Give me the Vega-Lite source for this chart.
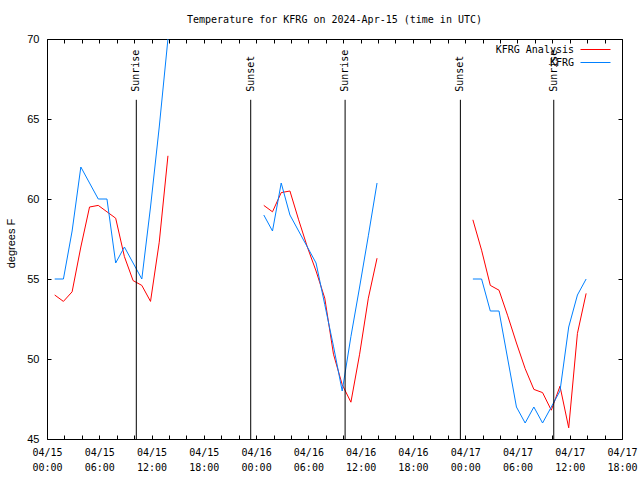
{
  "$schema": "https://vega.github.io/schema/vega-lite/v6.json",
  "width": 575,
  "height": 400,
  "autosize": "none",
  "padding": {"left": 47, "top": 39, "right": 18, "bottom": 41},
  "background": "white",
  "title": {
    "text": "Temperature for KFRG on 2024-Apr-15 (time in UTC)",
    "font": "DejaVu Sans Mono",
    "fontSize": 10,
    "fontWeight": "normal",
    "color": "black",
    "anchor": "middle",
    "offset": 8
  },
  "datasets": {
    "obs": [
      {"day": "04/15", "t": "2024-04-15T00:53:00Z", "KFRG Analysis": 54.0, "KFRG": 55},
      {"day": "04/15", "t": "2024-04-15T01:53:00Z", "KFRG Analysis": 53.6, "KFRG": 55},
      {"day": "04/15", "t": "2024-04-15T02:53:00Z", "KFRG Analysis": 54.2, "KFRG": 58},
      {"day": "04/15", "t": "2024-04-15T03:53:00Z", "KFRG Analysis": 57.0, "KFRG": 62},
      {"day": "04/15", "t": "2024-04-15T04:53:00Z", "KFRG Analysis": 59.5, "KFRG": 61},
      {"day": "04/15", "t": "2024-04-15T05:53:00Z", "KFRG Analysis": 59.6, "KFRG": 60},
      {"day": "04/15", "t": "2024-04-15T06:53:00Z", "KFRG Analysis": 59.2, "KFRG": 60},
      {"day": "04/15", "t": "2024-04-15T07:53:00Z", "KFRG Analysis": 58.8, "KFRG": 56},
      {"day": "04/15", "t": "2024-04-15T08:53:00Z", "KFRG Analysis": 56.4, "KFRG": 57},
      {"day": "04/15", "t": "2024-04-15T09:53:00Z", "KFRG Analysis": 54.9, "KFRG": 56},
      {"day": "04/15", "t": "2024-04-15T10:53:00Z", "KFRG Analysis": 54.6, "KFRG": 55},
      {"day": "04/15", "t": "2024-04-15T11:53:00Z", "KFRG Analysis": 53.6, "KFRG": 59.5},
      {"day": "04/15", "t": "2024-04-15T12:53:00Z", "KFRG Analysis": 57.3, "KFRG": 64.5},
      {"day": "04/15", "t": "2024-04-15T13:53:00Z", "KFRG Analysis": 62.7, "KFRG": 70},
      {"day": "04/16", "t": "2024-04-16T00:53:00Z", "KFRG Analysis": 59.6, "KFRG": 59},
      {"day": "04/16", "t": "2024-04-16T01:53:00Z", "KFRG Analysis": 59.2, "KFRG": 58},
      {"day": "04/16", "t": "2024-04-16T02:53:00Z", "KFRG Analysis": 60.4, "KFRG": 61},
      {"day": "04/16", "t": "2024-04-16T03:53:00Z", "KFRG Analysis": 60.5, "KFRG": 59},
      {"day": "04/16", "t": "2024-04-16T04:53:00Z", "KFRG Analysis": 58.7, "KFRG": 58},
      {"day": "04/16", "t": "2024-04-16T05:53:00Z", "KFRG Analysis": 57.0, "KFRG": 57},
      {"day": "04/16", "t": "2024-04-16T06:53:00Z", "KFRG Analysis": 55.5, "KFRG": 56},
      {"day": "04/16", "t": "2024-04-16T07:53:00Z", "KFRG Analysis": 53.8, "KFRG": 53.4},
      {"day": "04/16", "t": "2024-04-16T08:53:00Z", "KFRG Analysis": 50.3, "KFRG": 50.8},
      {"day": "04/16", "t": "2024-04-16T09:53:00Z", "KFRG Analysis": 48.4, "KFRG": 48},
      {"day": "04/16", "t": "2024-04-16T10:53:00Z", "KFRG Analysis": 47.3, "KFRG": 51.4},
      {"day": "04/16", "t": "2024-04-16T11:53:00Z", "KFRG Analysis": 50.3, "KFRG": 54.5},
      {"day": "04/16", "t": "2024-04-16T12:53:00Z", "KFRG Analysis": 53.8, "KFRG": 57.7},
      {"day": "04/16", "t": "2024-04-16T13:53:00Z", "KFRG Analysis": 56.3, "KFRG": 61},
      {"day": "04/17", "t": "2024-04-17T00:53:00Z", "KFRG Analysis": 58.7, "KFRG": 55},
      {"day": "04/17", "t": "2024-04-17T01:53:00Z", "KFRG Analysis": 56.8, "KFRG": 55},
      {"day": "04/17", "t": "2024-04-17T02:53:00Z", "KFRG Analysis": 54.6, "KFRG": 53},
      {"day": "04/17", "t": "2024-04-17T03:53:00Z", "KFRG Analysis": 54.3, "KFRG": 53},
      {"day": "04/17", "t": "2024-04-17T04:53:00Z", "KFRG Analysis": 52.7, "KFRG": 50},
      {"day": "04/17", "t": "2024-04-17T05:53:00Z", "KFRG Analysis": 51.0, "KFRG": 47},
      {"day": "04/17", "t": "2024-04-17T06:53:00Z", "KFRG Analysis": 49.4, "KFRG": 46},
      {"day": "04/17", "t": "2024-04-17T07:53:00Z", "KFRG Analysis": 48.1, "KFRG": 47},
      {"day": "04/17", "t": "2024-04-17T08:53:00Z", "KFRG Analysis": 47.9, "KFRG": 46},
      {"day": "04/17", "t": "2024-04-17T09:53:00Z", "KFRG Analysis": 46.8, "KFRG": 47},
      {"day": "04/17", "t": "2024-04-17T10:53:00Z", "KFRG Analysis": 48.3, "KFRG": 48},
      {"day": "04/17", "t": "2024-04-17T11:53:00Z", "KFRG Analysis": 45.7, "KFRG": 52},
      {"day": "04/17", "t": "2024-04-17T12:53:00Z", "KFRG Analysis": 51.6, "KFRG": 54},
      {"day": "04/17", "t": "2024-04-17T13:53:00Z", "KFRG Analysis": 54.1, "KFRG": 55}
    ],
    "events": [
      {"t": "2024-04-15T10:15:00Z", "label": "Sunrise"},
      {"t": "2024-04-15T23:23:00Z", "label": "Sunset"},
      {"t": "2024-04-16T10:13:00Z", "label": "Sunrise"},
      {"t": "2024-04-16T23:27:00Z", "label": "Sunset"},
      {"t": "2024-04-17T10:10:00Z", "label": "Sunrise"}
    ]
  },
  "layer": [
    {
      "data": {"name": "obs"},
      "transform": [{"fold": ["KFRG Analysis", "KFRG"], "as": ["series", "temp"]}],
      "mark": {"type": "line", "strokeWidth": 1, "clip": true, "interpolate": "linear"},
      "encoding": {
        "x": {
          "field": "t", "type": "temporal",
          "scale": {"type": "utc", "domain": [1713139200000, 1713376800000]},
          "axis": {
            "orient": "bottom", "title": null, "ticks": true,
            "values": [1713139200000, 1713146400000, 1713153600000, 1713160800000, 1713168000000, 1713175200000, 1713182400000, 1713189600000, 1713196800000, 1713204000000, 1713211200000, 1713218400000, 1713225600000, 1713232800000, 1713240000000, 1713247200000, 1713254400000, 1713261600000, 1713268800000, 1713276000000, 1713283200000, 1713290400000, 1713297600000, 1713304800000, 1713312000000, 1713319200000, 1713326400000, 1713333600000, 1713340800000, 1713348000000, 1713355200000, 1713362400000, 1713369600000, 1713376800000],
            "labelExpr": "utchours(datum.value) % 6 == 0 ? [utcFormat(datum.value, '%m/%d'), utcFormat(datum.value, '%H:%M')] : ''",
            "labelOverlap": false, "labelFlush": false,
            "labelFont": "DejaVu Sans Mono", "labelFontSize": 10,
            "labelLineHeight": 15, "labelBaseline": "top", "labelAngle": 0,
            "labelPadding": 8
          }
        },
        "y": {
          "field": "temp", "type": "quantitative",
          "scale": {"domain": [45, 70], "nice": false, "zero": false},
          "axis": {
            "orient": "left", "title": "degrees F", "ticks": true,
            "values": [45, 50, 55, 60, 65, 70],
            "labelFont": "Liberation Sans", "labelFontSize": 11,
            "labelPadding": 8,
            "titleFont": "Liberation Sans", "titleFontSize": 11, "titleFontWeight": "normal",
            "titleX": -40, "titleY": 204, "titleAngle": 270, "titleBaseline": "middle", "titleAlign": "center"
          }
        },
        "color": {
          "field": "series", "type": "nominal",
          "scale": {"domain": ["KFRG Analysis", "KFRG"], "range": ["#ff0000", "#0080ff"]},
          "legend": {"title": null}
        },
        "detail": {"field": "day", "type": "nominal"}
      }
    },
    {
      "data": {"name": "events"},
      "mark": {"type": "rule", "color": "black", "strokeWidth": 1},
      "encoding": {
        "x": {
          "field": "t", "type": "temporal",
          "axis": {"orient": "top", "title": null, "labels": false, "ticks": true,
                   "values": [1713139200000, 1713146400000, 1713153600000, 1713160800000, 1713168000000, 1713175200000, 1713182400000, 1713189600000, 1713196800000, 1713204000000, 1713211200000, 1713218400000, 1713225600000, 1713232800000, 1713240000000, 1713247200000, 1713254400000, 1713261600000, 1713268800000, 1713276000000, 1713283200000, 1713290400000, 1713297600000, 1713304800000, 1713312000000, 1713319200000, 1713326400000, 1713333600000, 1713340800000, 1713348000000, 1713355200000, 1713362400000, 1713369600000, 1713376800000]}
        },
        "y": {"datum": 66.2, "type": "quantitative",
              "axis": {"orient": "right", "title": null, "labels": false, "ticks": true,
                       "values": [45, 50, 55, 60, 65, 70]}},
        "y2": {"datum": 45}
      }
    },
    {
      "data": {"name": "events"},
      "mark": {"type": "text", "angle": 270, "align": "left", "baseline": "middle",
               "font": "DejaVu Sans Mono", "fontSize": 10, "color": "black"},
      "encoding": {
        "x": {"field": "t", "type": "temporal", "axis": null},
        "y": {"datum": 66.7, "type": "quantitative", "axis": null},
        "text": {"field": "label"}
      }
    }
  ],
  "resolve": {"axis": {"x": "independent", "y": "independent"}},
  "config": {
    "view": {"stroke": "black", "strokeWidth": 1},
    "axis": {
      "domain": false, "grid": false, "offset": -4, "ticks": true, "zindex": 1,
      "tickSize": 4, "tickColor": "black", "tickWidth": 1, "tickOpacity": 1,
      "labelColor": "black", "titleColor": "black"
    },
    "legend": {
      "orient": "none", "legendX": 543, "legendY": 5,
      "symbolType": "M-3,0H3", "symbolSize": 100, "symbolStrokeWidth": 1,
      "labelFont": "DejaVu Sans Mono", "labelFontSize": 10, "labelColor": "black",
      "labelAlign": "right", "labelOffset": -27,
      "padding": 0, "rowPadding": 2
    }
  }
}
